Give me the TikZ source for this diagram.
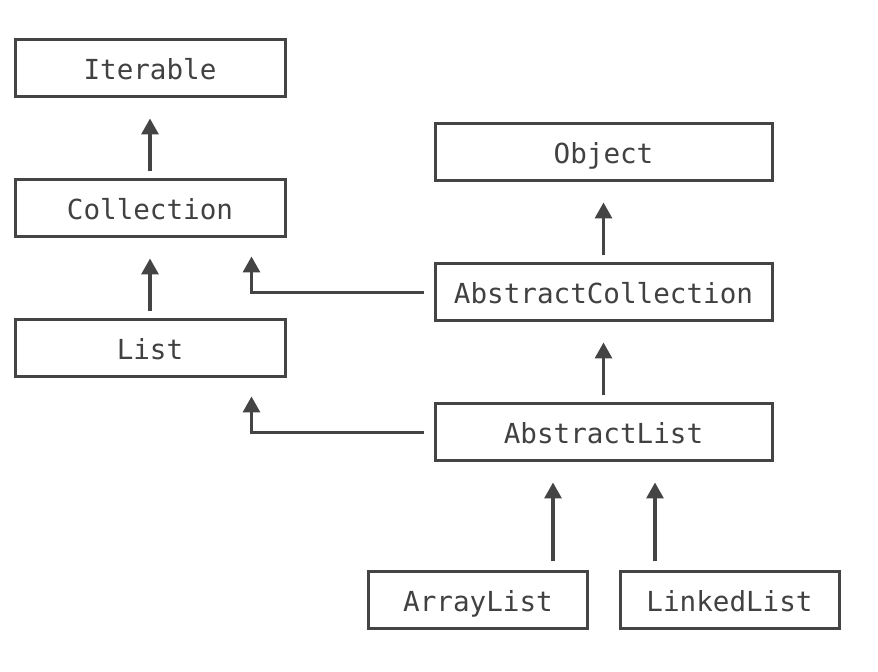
\documentclass[tikz,border=0pt]{standalone}
\usepackage{fontspec}
\setmonofont{DejaVu Sans Mono}
\usetikzlibrary{arrows.meta, positioning}
\definecolor{ink}{HTML}{444444}
\tikzstyle{cls} = [rectangle, minimum width=135pt, minimum height=28.5pt, text height=11.6pt, text depth=0.8pt, text centered, draw=ink, line width=1.5pt, text=ink!95!black, font=\fontsize{13.8pt}{16pt}\selectfont\ttfamily]
\tikzstyle{wide} = [cls, minimum width=168.5pt]
\tikzstyle{leaf} = [cls, minimum width=109.5pt]
\tikzstyle{arrow} = [draw=ink, line width=1.6pt, -{Triangle[width=8.5pt,length=8pt]}, shorten >=10pt, shorten <=3.5pt]

\begin{document}
\begin{tikzpicture}[x=0.5pt, y=-0.5pt, node distance=70pt]
\useasboundingbox (0,0) rectangle (878,672);
\node (iter) [cls] at (150,68.5) {Iterable};
\node (coll) [cls, below of=iter] {Collection};
\node (list) [cls, below of=coll] {List};
\node (obj) [wide] at (603.5,152.5) {Object};
\node (abscoll) [wide, below of=obj] {AbstractCollection};
\node (abslist) [wide, below of=abscoll] {AbstractList};
\node (arr) [leaf, below of=abslist, node distance=84pt, xshift=-62.75pt] {ArrayList};
\node (lnk) [leaf, below of=abslist, node distance=84pt, xshift=63pt] {LinkedList};
% attach points
\coordinate (coll-in) at ([xshift=-17.5pt]coll.south east);
\coordinate (list-in) at ([xshift=-17.5pt]list.south east);
\coordinate (arr-out) at ([xshift=37.5pt]arr.north);
\coordinate (lnk-out) at ([xshift=-37.25pt]lnk.north);
\draw [arrow] (coll) -- (iter);
\draw [arrow] (list) -- (coll);
\draw [arrow] (abscoll) -- (obj);
\draw [arrow] (abslist) -- (abscoll);
\draw [arrow, shorten <=5pt, shorten >=9pt] (abscoll.west) -| (coll-in);
\draw [arrow, shorten <=5pt, shorten >=9pt] (abslist.west) -| (list-in);
\draw [arrow, shorten <=4.5pt] (arr-out) -- (arr-out |- abslist.south);
\draw [arrow, shorten <=4.5pt] (lnk-out) -- (lnk-out |- abslist.south);
\end{tikzpicture}
\end{document}
